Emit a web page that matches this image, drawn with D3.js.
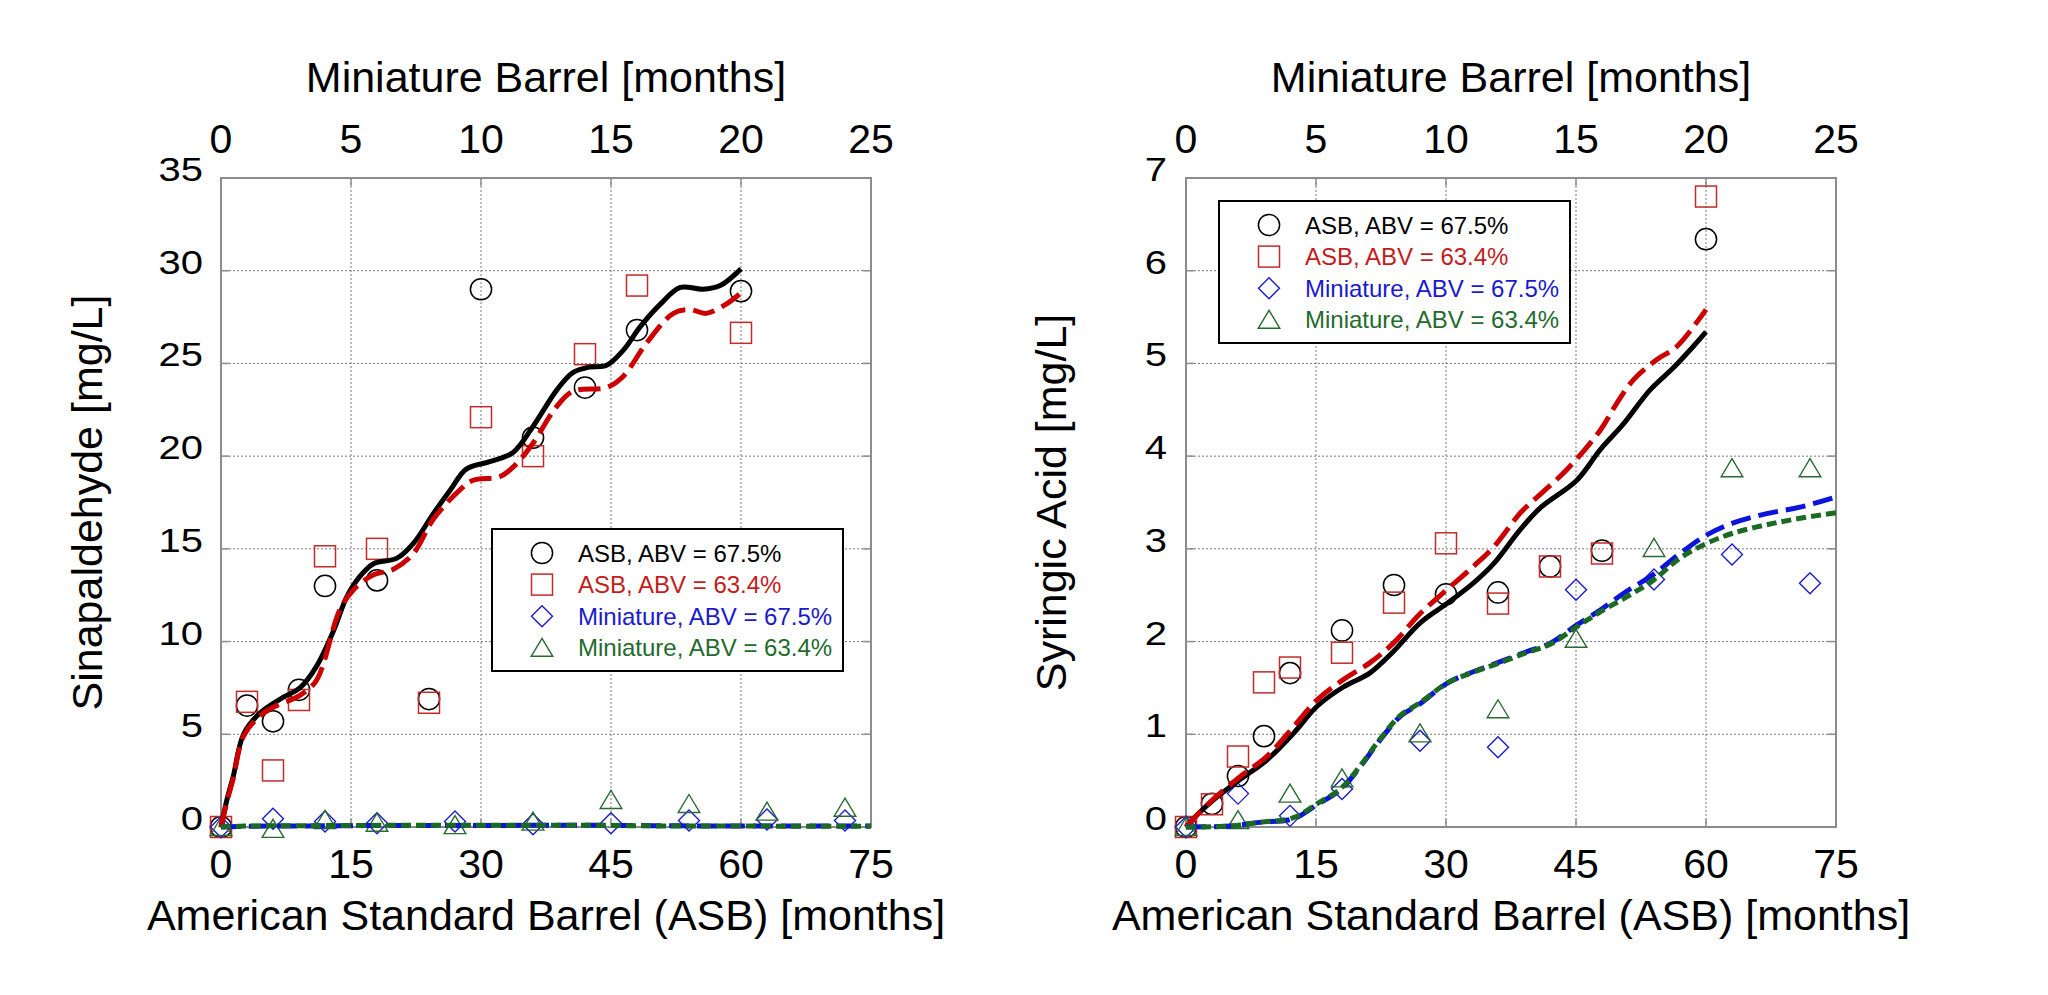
<!DOCTYPE html>
<html><head><meta charset="utf-8">
<script src="https://cdn.jsdelivr.net/npm/d3@7"></script>
<style>
html,body{margin:0;padding:0;background:#fff;}
svg{display:block;font-family:"Liberation Sans",Arial,sans-serif;}
</style></head>
<body>
<svg id="chart" width="2048" height="995"></svg>
<script>
// ---------- DATA ----------
const asbTicks = [0,15,30,45,60,75];
const miniTicks = [0,5,10,15,20,25];
const sinYTicks = [0,5,10,15,20,25,30,35];
const synYTicks = [0,1,2,3,4,5,6,7];

const asbMonths  = [0,3,6,9,12,18,24,30,36,42,48,60];
const miniMonths = [0,2,4,6,9,12,15,18,21,24];

const seriesNames = ["ASB, ABV = 67.5%","ASB, ABV = 63.4%","Miniature, ABV = 67.5%","Miniature, ABV = 63.4%"];

// Sinapaldehyde [mg/L]
const sinASB675  = [0,6.55,5.7,7.4,13.0,13.3,6.9,29.0,21.0,23.7,26.8,28.9];
const sinASB634  = [0,6.75,3.05,6.85,14.6,15.0,6.7,22.1,20.0,25.5,29.2,26.65];
const sinMini675 = [0,0.45,0.3,0.2,0.3,0.15,0.2,0.35,0.4,0.35];
const sinMini634 = [0,-0.1,0.38,0.23,0.1,0.29,1.46,1.24,0.83,1.04];

// Sinapaldehyde model curves (x in ASB months)
const sinFitASB675T = [0,0.7,1.4,2.6,4.5,7.2,9.1,11,13,14.5,16,17.6,20.3,22.2,24.5,26.5,28.3,31,33.7,36,38.8,40.6,42.5,44.5,46.4,48.4,50.7,53,55.6,57.6,60];
const sinFitASB675V = [0,1.5,2.7,5.0,6.15,7.0,7.5,8.65,10.6,12.4,13.5,14.2,14.5,15.3,16.9,18.2,19.3,19.7,20.2,21.6,23.6,24.5,24.8,24.9,25.7,27.0,28.2,29.1,29.0,29.2,30.1];
const sinFitASB634T = [0,0.7,1.4,2.6,4.5,6.2,9.1,11,13.7,15.3,17.6,19.9,22.2,24.5,27.6,29.1,32.2,33.9,36,38.6,40.6,44.5,46.4,49.1,52.2,54.1,56,58.3,60];
const sinFitASB634V = [0,1.4,2.6,4.9,6.0,6.5,7.1,7.9,11.7,12.8,13.6,13.9,14.75,16.6,18.2,18.7,18.9,19.5,20.7,22.6,23.5,23.7,24.3,26.1,27.7,27.9,27.7,28.2,28.8];
const sinFitMiniT    = [0,3,10,20,30,40,50,60,75];
const sinFitMini675V = [0,0.04,0.06,0.08,0.08,0.1,0.07,0.05,0.05];
const sinFitMini634V = [0,0.05,0.07,0.09,0.09,0.1,0.06,0.05,0.04];

// Syringic acid [mg/L]
const synASB675  = [0,0.25,0.55,0.98,1.66,2.12,2.61,2.51,2.53,2.81,2.98,6.34];
const synASB634  = [0,0.245,0.76,1.56,1.72,1.88,2.42,3.06,2.41,2.81,2.95,6.8];
const synMini675 = [0,0.36,0.12,0.41,0.93,0.86,2.56,2.67,2.94,2.63];
const synMini634 = [0,0.075,0.36,0.525,1.01,1.27,2.03,3.01,3.87,3.87];

const synFitASB675T = [0,1.5,3.15,6.2,9.3,12.4,15.1,18.15,21.2,23.9,27,30.1,33.15,35.5,38.5,40.85,45.1,47.8,50.5,53.5,56.2,58.5,60];
const synFitASB675V = [0,0.15,0.29,0.51,0.72,1.01,1.3,1.51,1.66,1.89,2.2,2.41,2.63,2.84,3.2,3.44,3.74,4.07,4.35,4.71,4.95,5.18,5.34];
const synFitASB634T = [0,1.5,3.15,6.2,9.3,12.4,15.1,18.15,21.2,23.9,27,30.1,33.15,35.5,38.5,39.7,43.9,47.8,49.7,51.6,54.3,56.6,60];
const synFitASB634V = [0,0.15,0.3,0.54,0.76,1.08,1.37,1.59,1.77,1.98,2.3,2.56,2.81,3.02,3.38,3.49,3.85,4.28,4.57,4.82,5.04,5.18,5.58];
const synFitMiniT    = [0,5,8.5,12.4,15.1,17.8,20.1,22.4,24.7,27,30.1,33.15,36.2,39.3,42,45.1,47.8,50.8,53.9,57,60.1,63.15,67,70.85,75];
const synFitMini675V = [0,0.01,0.05,0.09,0.24,0.4,0.65,0.94,1.19,1.33,1.55,1.675,1.78,1.89,1.98,2.18,2.34,2.54,2.72,2.95,3.15,3.28,3.38,3.45,3.56];
const synFitMini634V = [0,0.01,0.05,0.1,0.25,0.41,0.66,0.95,1.2,1.34,1.55,1.67,1.77,1.88,1.97,2.16,2.32,2.48,2.66,2.9,3.06,3.17,3.26,3.33,3.39];

// ---------- STYLE ----------
const C = {
  black:"#000000",
  redMark:"#c42a2a", redLine:"#cc0000", redText:"#c41c1c",
  blueMark:"#1a1acc", blueLine:"#0c14dc", blueText:"#1a1acc",
  greenMark:"#2a6a32", greenLine:"#1b6a24", greenText:"#236b2c",
  frame:"#8c8c8c", grid:"#7a7a7a"
};

const svg = d3.select("#chart");
svg.append("rect").attr("width",2048).attr("height",995).attr("fill","#fff");

function marker(g, type, x, y, color){
  if(type==="circle"){
    g.append("circle").attr("cx",x).attr("cy",y).attr("r",10.6)
     .attr("fill","none").attr("stroke",color).attr("stroke-width",1.5);
  } else if(type==="square"){
    g.append("rect").attr("x",x-10.5).attr("y",y-10.5).attr("width",21).attr("height",21)
     .attr("fill","none").attr("stroke",color).attr("stroke-width",1.5);
  } else if(type==="diamond"){
    g.append("path").attr("d",`M${x},${y-10.5}L${x+10.5},${y}L${x},${y+10.5}L${x-10.5},${y}Z`)
     .attr("fill","none").attr("stroke",color).attr("stroke-width",1.4);
  } else {
    g.append("path").attr("d",`M${x},${y-9.5}L${x+10.8},${y+8.5}L${x-10.8},${y+8.5}Z`)
     .attr("fill","none").attr("stroke",color).attr("stroke-width",1.4);
  }
}

function panel(cfg){
  const {x0,x1,y0,y1,ymax,yTicks,yTitle,data,fits,legend} = cfg;
  const x = d3.scaleLinear().domain([0,75]).range([x0,x1]);
  const xTop = d3.scaleLinear().domain([0,25]).range([x0,x1]);
  const y = d3.scaleLinear().domain([0,ymax]).range([y1,y0]);
  const g = svg.append("g");

  // grid
  const grid = g.append("g").attr("stroke",C.grid).attr("stroke-width",1).attr("stroke-dasharray","2,2");
  asbTicks.slice(1,-1).forEach(t=>grid.append("line").attr("x1",x(t)).attr("x2",x(t)).attr("y1",y0).attr("y2",y1));
  yTicks.slice(1,-1).forEach(v=>grid.append("line").attr("x1",x0).attr("x2",x1).attr("y1",y(v)).attr("y2",y(v)));

  // inner ticks
  const tk = g.append("g").attr("stroke",C.frame).attr("stroke-width",1.5);
  asbTicks.slice(1,-1).forEach(t=>{
    tk.append("line").attr("x1",x(t)).attr("x2",x(t)).attr("y1",y1).attr("y2",y1-8);
    tk.append("line").attr("x1",x(t)).attr("x2",x(t)).attr("y1",y0).attr("y2",y0+8);
  });
  yTicks.slice(1,-1).forEach(v=>{
    tk.append("line").attr("x1",x0).attr("x2",x0+8).attr("y1",y(v)).attr("y2",y(v));
    tk.append("line").attr("x1",x1).attr("x2",x1-8).attr("y1",y(v)).attr("y2",y(v));
  });

  // frame
  g.append("rect").attr("x",x0).attr("y",y0).attr("width",x1-x0).attr("height",y1-y0)
   .attr("fill","none").attr("stroke",C.frame).attr("stroke-width",2);

  // bottom axis labels
  const bot = g.append("g").attr("font-size",41).attr("text-anchor","middle").attr("fill","#000");
  asbTicks.forEach(t=>bot.append("text").attr("x",x(t)).attr("y",878).text(t));
  // top axis labels
  const top = g.append("g").attr("font-size",41).attr("text-anchor","middle").attr("fill","#000");
  miniTicks.forEach(t=>top.append("text").attr("x",xTop(t)).attr("y",153).text(t));
  // y labels
  const yl = g.append("g").attr("font-size",40).attr("text-anchor","end").attr("fill","#000");
  yTicks.forEach(v=>yl.append("text")
     .attr("transform",`translate(${cfg.yLabelX},${y(v)+3}) scale(1,0.84)`).text(v));

  // titles
  g.append("text").attr("x",(x0+x1)/2).attr("y",92).attr("text-anchor","middle")
   .attr("font-size",43).text("Miniature Barrel [months]");
  g.append("text").attr("x",(x0+x1)/2).attr("y",930).attr("text-anchor","middle")
   .attr("font-size",43).text("American Standard Barrel (ASB) [months]");
  g.append("text").attr("transform",`translate(${cfg.yTitleX},${(y0+y1)/2}) rotate(-90)`)
   .attr("text-anchor","middle").attr("font-size",43).text(yTitle);

  // markers
  const mg = g.append("g");
  data.forEach(s=>{
    const xs = s.mini ? miniMonths.map(m=>xTop(m)) : asbMonths.map(m=>x(m));
    s.v.forEach((v,i)=>marker(mg,s.type,xs[i],y(v),s.color));
  });

  // fit lines
  const line = d3.line().x(d=>x(d[0])).y(d=>y(d[1])).curve(d3.curveCatmullRom.alpha(0.5));
  fits.forEach(f=>{
    g.append("path").datum(f.t.map((t,i)=>[t,f.v[i]])).attr("d",line)
     .attr("fill","none").attr("stroke",f.color).attr("stroke-width",f.w)
     .attr("stroke-dasharray",f.dash).attr("stroke-linecap","butt").attr("stroke-linejoin","round");
  });

  // legend
  const L = legend;
  const lg = g.append("g");
  lg.append("rect").attr("x",L.x).attr("y",L.y).attr("width",351).attr("height",142)
    .attr("fill","#fff").attr("stroke","#000").attr("stroke-width",2);
  const types = ["circle","square","diamond","triangle"];
  const mcols = [C.black,C.redMark,C.blueMark,C.greenMark];
  const tcols = [C.black,C.redText,C.blueText,C.greenText];
  seriesNames.forEach((n,i)=>{
    const cy = L.y + 24 + i*31.6;
    marker(lg,types[i],L.x+50,cy,mcols[i]);
    lg.append("text").attr("x",L.x+86).attr("y",cy+8.5).attr("font-size",24)
      .attr("fill",tcols[i]).text(n);
  });
}

panel({
  x0:221,x1:871,y0:178,y1:827,ymax:35,yTicks:sinYTicks,yTitle:"Sinapaldehyde [mg/L]",
  yLabelX:203, yTitleX:102,
  data:[
    {v:sinASB675,type:"circle",color:C.black},
    {v:sinASB634,type:"square",color:C.redMark},
    {v:sinMini675,type:"diamond",color:C.blueMark,mini:true},
    {v:sinMini634,type:"triangle",color:C.greenMark,mini:true}
  ],
  fits:[
    {t:sinFitASB675T,v:sinFitASB675V,color:C.black,w:5,dash:null},
    {t:sinFitASB634T,v:sinFitASB634V,color:C.redLine,w:5,dash:"22,8"},
    {t:sinFitMiniT,v:sinFitMini675V,color:C.blueLine,w:5,dash:"20,8"},
    {t:sinFitMiniT,v:sinFitMini634V,color:C.greenLine,w:5,dash:"10,5"}
  ],
  legend:{x:492,y:529}
});

panel({
  x0:1186,x1:1836,y0:178,y1:827,ymax:7,yTicks:synYTicks,yTitle:"Syringic Acid [mg/L]",
  yLabelX:1167, yTitleX:1066,
  data:[
    {v:synASB675,type:"circle",color:C.black},
    {v:synASB634,type:"square",color:C.redMark},
    {v:synMini675,type:"diamond",color:C.blueMark,mini:true},
    {v:synMini634,type:"triangle",color:C.greenMark,mini:true}
  ],
  fits:[
    {t:synFitASB675T,v:synFitASB675V,color:C.black,w:5,dash:null},
    {t:synFitASB634T,v:synFitASB634V,color:C.redLine,w:5,dash:"22,8"},
    {t:synFitMiniT,v:synFitMini675V,color:C.blueLine,w:5,dash:"20,8"},
    {t:synFitMiniT,v:synFitMini634V,color:C.greenLine,w:5,dash:"10,5"}
  ],
  legend:{x:1219,y:201}
});
</script>
</body></html>
